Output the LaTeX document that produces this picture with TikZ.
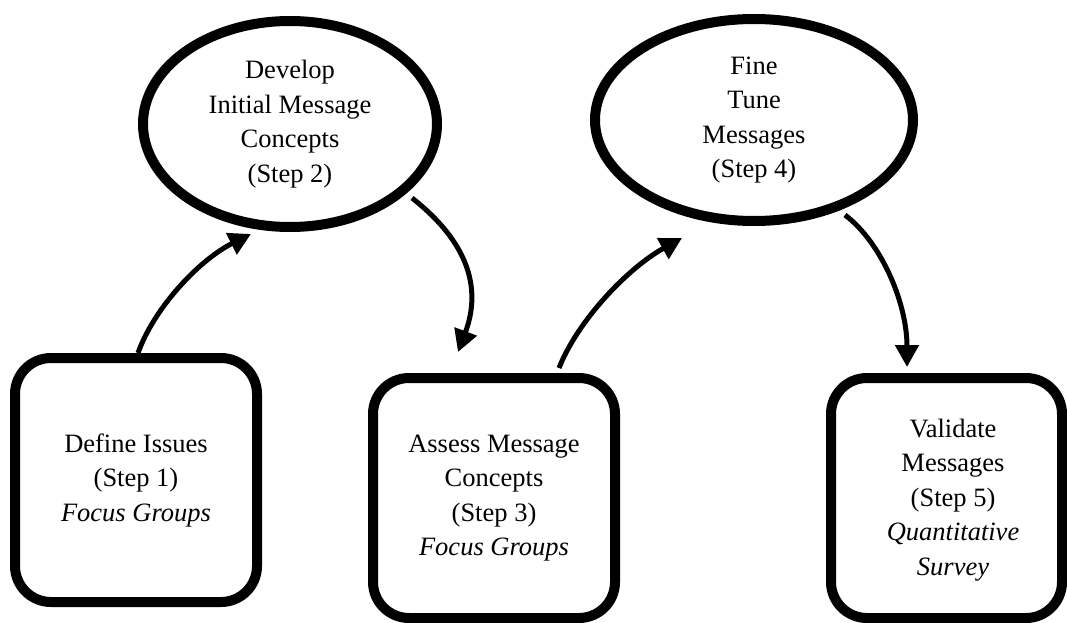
\documentclass[tikz,border=0pt]{standalone}
\usepackage{fontspec}
\setmainfont{Liberation Serif}
\usetikzlibrary{arrows.meta,shapes.geometric}
\begin{document}
\begin{tikzpicture}[x=1pt,y=-1pt,
  lbl/.style={align=center, font=\fontsize{26.5}{34.5}\selectfont},
  box/.style={lbl, draw, line width=10pt, rounded corners=36pt, inner sep=0pt},
  oval/.style={lbl, draw, ellipse, line width=10pt, inner sep=0pt},
  arr/.style={line width=5pt, -{Triangle[length=22pt,width=23pt]}}]
\useasboundingbox (0,0) rectangle (1067,623);

\node[box, minimum width=242pt, minimum height=244pt] (b1) at (136,480)
  {Define Issues\\(Step 1)\\\textit{Focus Groups}};
\node[oval, minimum width=294pt, minimum height=206pt] (e1) at (290,124)
  {Develop\\Initial Message\\Concepts\\(Step 2)};
\node[box, minimum width=242pt, minimum height=240pt] (b2) at (494,498)
  {Assess Message\\Concepts\\(Step 3)\\\textit{Focus Groups}};
\node[oval, minimum width=318pt, minimum height=202pt] (e2) at (754,120)
  {Fine\\Tune\\Messages\\(Step 4)};
\node[box, minimum width=231pt, minimum height=240pt] (b3) at (946.5,498) {};
\node[lbl] (t3) at (953,500)
  {Validate\\Messages\\(Step 5)\\\textit{Quantitative}\\\textit{Survey}};

\draw[arr] ([xshift=2pt]b1.north) .. controls +(16,-45) and +(-52,26) .. ([xshift=-39pt,yshift=-2pt]e1.south);
\draw[arr] ([xshift=-30pt,yshift=-74pt]e1.east) .. controls +(56,44) and +(24,-64) .. ([xshift=-36pt,yshift=21pt]b2.north);
\draw[arr] ([xshift=65pt,yshift=5pt]b2.north) .. controls +(19,-48) and +(-54,30) .. ([xshift=-72pt,yshift=-12pt]e2.south);
\draw[arr] ([xshift=91pt,yshift=11pt]e2.south) .. controls +(37,28) and +(0,-63) .. ([xshift=-39.5pt,yshift=6pt]b3.north);
\end{tikzpicture}
\end{document}
